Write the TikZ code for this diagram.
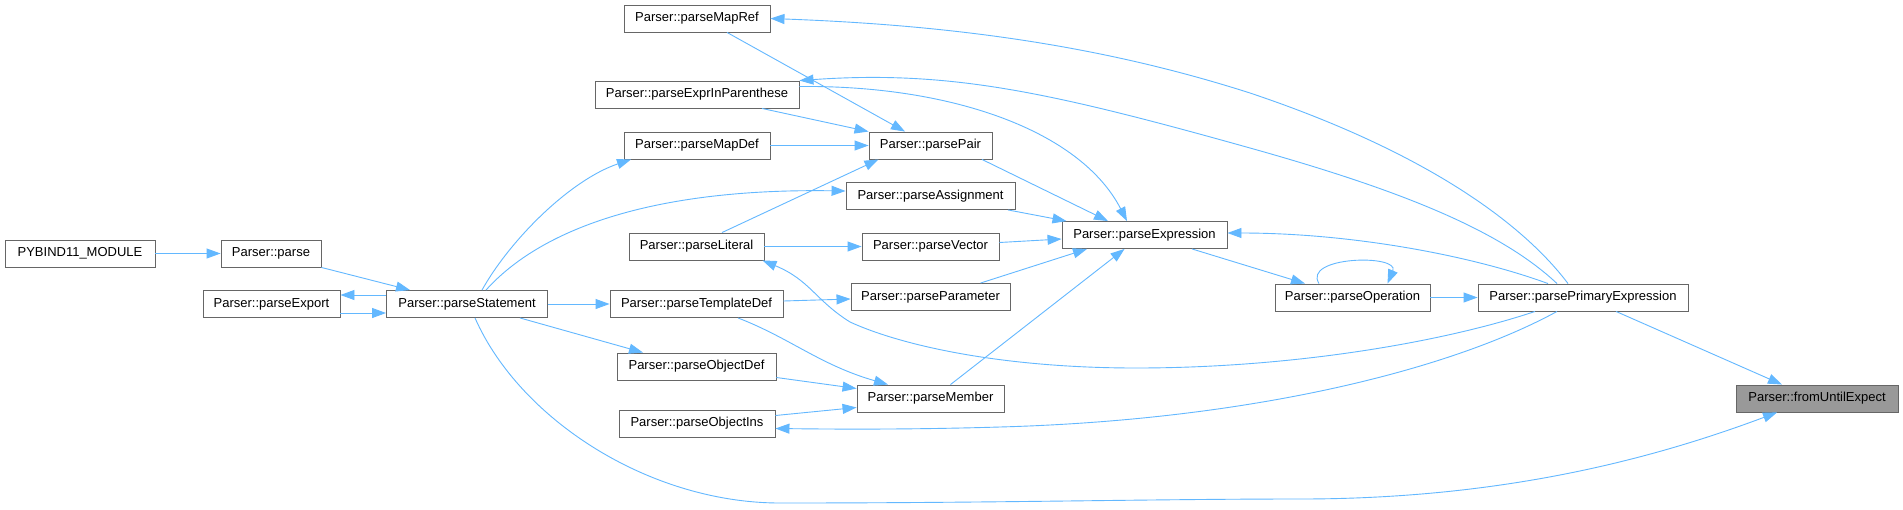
\documentclass[tikz,border=0pt]{standalone}
\usepackage{fontspec}
\setmainfont{Liberation Sans}
\usetikzlibrary{arrows.meta}
\definecolor{edgeblue}{HTML}{63B8FF}
\definecolor{boxgray}{HTML}{666666}
\definecolor{hlgray}{HTML}{999999}
\begin{document}
\begin{tikzpicture}[x=1pt,y=-1pt,
  fn/.style={draw=boxgray, fill=white, line width=0.9pt, minimum height=27pt, inner sep=0pt, font=\fontsize{13}{15}\selectfont, text=black},
  e/.style={draw=edgeblue, line width=0.9pt, -{Triangle[length=14pt,width=10pt]}}]
\useasboundingbox[fill=white] (0,0) rectangle (1903,509);

\node[fn, minimum width=150pt] (pyb) at (80,253.5) {PYBIND11\_MODULE};
\node[fn, minimum width=100pt] (parse) at (271,253.5) {Parser::parse};
\node[fn, minimum width=137pt] (exp) at (271.5,304) {Parser::parseExport};
\node[fn, minimum width=161pt] (stmt) at (467,304) {Parser::parseStatement};
\node[fn, minimum width=146pt] (mapref) at (697,18.5) {Parser::parseMapRef};
\node[fn, minimum width=204pt] (paren) at (697,94.5) {Parser::parseExprInParenthese};
\node[fn, minimum width=146pt] (mapdef) at (697,145.5) {Parser::parseMapDef};
\node[fn, minimum width=123pt] (pair) at (930.5,145.5) {Parser::parsePair};
\node[fn, minimum width=169pt] (assign) at (930.5,196) {Parser::parseAssignment};
\node[fn, minimum width=135pt] (literal) at (696.5,246.5) {Parser::parseLiteral};
\node[fn, minimum width=137pt] (vector) at (930.5,246.5) {Parser::parseVector};
\node[fn, minimum width=165pt] (expr) at (1144.5,235) {Parser::parseExpression};
\node[fn, minimum width=173pt] (tmpl) at (696.5,304) {Parser::parseTemplateDef};
\node[fn, minimum width=159pt] (param) at (930.5,297) {Parser::parseParameter};
\node[fn, minimum width=155pt] (op) at (1352.5,297.5) {Parser::parseOperation};
\node[fn, minimum width=210pt] (prim) at (1583,297.5) {Parser::parsePrimaryExpression};
\node[fn, minimum width=159pt] (objdef) at (696.5,366.5) {Parser::parseObjectDef};
\node[fn, minimum width=147pt] (member) at (930.5,398.5) {Parser::parseMember};
\node[fn, minimum width=156pt] (objins) at (697,423.5) {Parser::parseObjectIns};
\node[fn, fill=hlgray, minimum width=162pt] (fue) at (1817,398.5) {Parser::fromUntilExpect};

\draw[e] (pyb.east) -- (parse.west);
\draw[e] (parse.south east) -- ([xshift=-57pt]stmt.north);
\draw[e] ([yshift=9pt]stmt.west) -- ([yshift=9pt]exp.east);
\draw[e] ([yshift=-9pt]exp.east) -- ([yshift=-9pt]stmt.west);
\draw[e] ([xshift=15pt]stmt.north) .. controls (510,240) and (570,180) .. ([xshift=-66pt]mapdef.south);
\draw[e] ([xshift=19pt]stmt.north) .. controls (540,230) and (650,188) .. ([yshift=5pt]assign.west);
\draw[e] (stmt.east) -- (tmpl.west);
\draw[e] ([xshift=53pt]stmt.south) -- ([xshift=-53.5pt]objdef.north);
\draw[e] ([xshift=8pt]stmt.south) .. controls (520,420) and (650,503) .. (780,503) .. controls (1000,503) and (1150,499) .. (1300,499) .. controls (1500,499) and (1650,460) .. ([xshift=-40pt]fue.south);

\draw[e] ([xshift=30pt]mapref.south) -- ([xshift=-25.5pt]pair.north);
\draw[e] ([xshift=65pt]paren.south) -- (pair.north west);
\draw[e] (mapdef.east) -- (pair.west);
\draw[e] ([xshift=25.5pt]literal.north) -- ([xshift=-52pt]pair.south);
\draw[e] ([xshift=51.5pt]pair.south) -- ([xshift=-36.5pt]expr.north);
\draw[e] ([yshift=8pt]paren.east) .. controls (950,85) and (1080,130) .. ([xshift=-17.5pt]expr.north);
\draw[e] ([xshift=77.5pt]assign.south) -- ([xshift=-78pt]expr.north);
\draw[e] ([yshift=4pt]vector.east) -- ([yshift=-4pt]expr.west);
\draw[e] ([xshift=50pt]param.north) -- ([xshift=-57.5pt]expr.south);
\draw[e] ([xshift=20pt]member.north) -- ([xshift=-20pt]expr.south);
\draw[e] (literal.east) -- (vector.west);
\draw[e] ([yshift=3pt]tmpl.east) -- ([yshift=-2pt]param.west);
\draw[e] ([xshift=41.5pt]tmpl.south) .. controls (790,338) and (820,365) .. ([xshift=-42.5pt]member.north);
\draw[e] ([yshift=-11pt]objdef.east) -- ([yshift=10pt]member.west);
\draw[e] ([yshift=8pt]objins.east) -- ([yshift=-9pt]member.west);
\draw[e] ([xshift=47.5pt]expr.south) -- ([xshift=-47.5pt]op.north);
\draw[e] ([xshift=-33.5pt]op.north) .. controls (1302,256) and (1400,254) .. ([xshift=35pt]op.north);
\draw[e] (op.east) -- (prim.west);
\draw[e] ([xshift=-35pt]prim.north) .. controls (1470,255) and (1350,233) .. ([yshift=2pt]expr.east);
\draw[e] ([xshift=-15pt]prim.north) .. controls (1520,220) and (1420,150) .. (1250,93) .. controls (1100,45) and (950,25) .. (mapref.east);
\draw[e] ([xshift=-26pt]prim.north) .. controls (1500,230) and (1400,190) .. (1250,148) .. controls (1050,92) and (950,70) .. (paren.north east);
\draw[e] ([xshift=-48pt]prim.south) .. controls (1450,340) and (1300,368) .. (1136,368) .. controls (1000,368) and (900,345) .. (850,322) .. controls (815,300) and (810,280) .. ([xshift=66pt]literal.south);
\draw[e] ([xshift=-26pt]prim.south) .. controls (1450,370) and (1250,420) .. (1000,427) .. controls (900,430) and (820,429) .. ([yshift=-5pt]objins.east);
\draw[e] ([xshift=33pt]prim.south) -- ([xshift=-35pt]fue.north);
\end{tikzpicture}
\end{document}
